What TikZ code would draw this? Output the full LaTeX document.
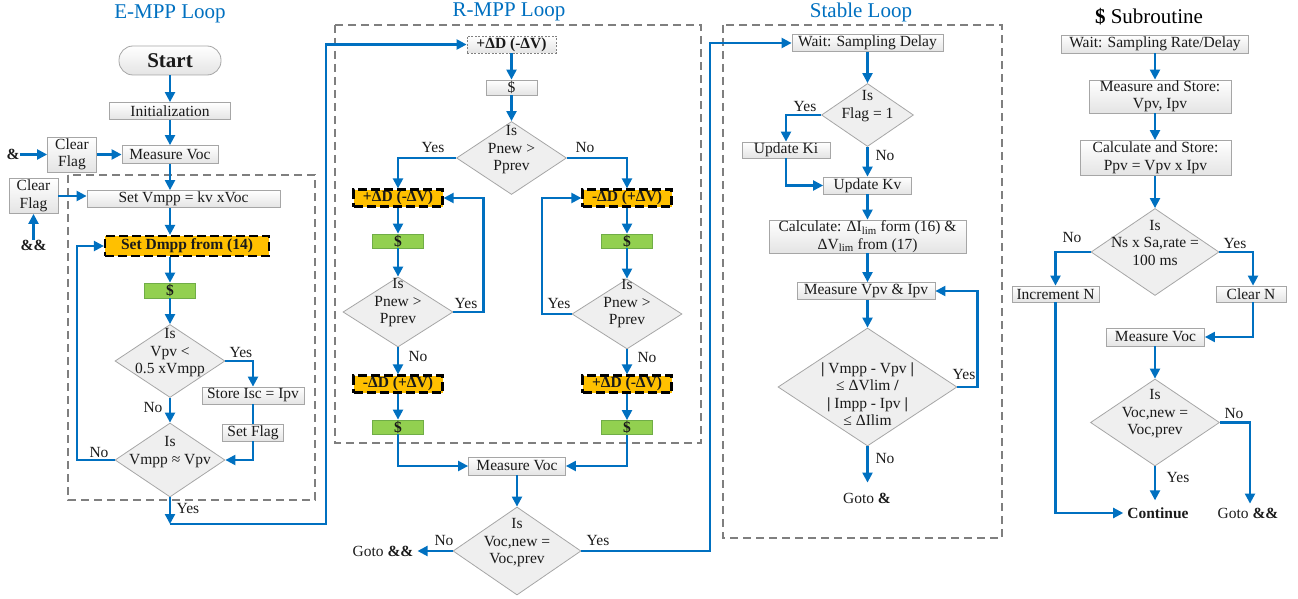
\documentclass[tikz,border=0pt]{standalone}
\usepackage{fontspec}
\setmainfont{Liberation Serif}
\usetikzlibrary{arrows.meta,shapes.geometric}
\definecolor{flowblue}{HTML}{0070C0}
\definecolor{boxline}{HTML}{A6A6A6}
\definecolor{boxfill}{HTML}{E4E4E4}
\definecolor{diafill}{HTML}{EFEFEF}
\definecolor{yel}{HTML}{FFC000}
\definecolor{grn}{HTML}{92D050}
\definecolor{grnline}{HTML}{70AD47}
\definecolor{frame}{HTML}{7F7F7F}
\definecolor{txt}{HTML}{1A1A1A}
\begin{document}
\begin{tikzpicture}[x=1pt,y=-1pt,
  every node/.style={text=txt, font=\fontsize{15.5}{17.5}\selectfont},
  box/.style={draw=boxline, line width=0.8pt, top color=white, bottom color=boxfill, inner sep=0pt, align=center},
  ybox/.style={draw=black, fill=yel, line width=2.2pt, dash pattern=on 9pt off 4pt, inner sep=0pt, minimum width=89, minimum height=17, font=\fontsize{15.5}{17.5}\selectfont\bfseries},
  gbox/.style={draw=grnline, fill=grn, line width=0.8pt, inner sep=0pt, minimum width=51, minimum height=14, font=\fontsize{15.5}{17.5}\selectfont\bfseries},
  dia/.style={diamond, draw=boxline, fill=diafill, line width=0.8pt, inner sep=0pt},
  dtxt/.style={align=center, inner sep=0pt},
  lbl/.style={inner sep=0pt},
  blbl/.style={inner sep=0pt, font=\fontsize{15.5}{17.5}\selectfont\bfseries},
  conn/.style={draw=flowblue, line width=2.2pt, -{Triangle[length=10pt,width=10pt]}},
  wire/.style={draw=flowblue, line width=2.2pt},
  frm/.style={draw=frame, line width=1.8pt, dash pattern=on 8pt off 5pt},
  ttl/.style={text=flowblue, font=\fontsize{21}{24}\selectfont},
]
\useasboundingbox (0,0) rectangle (1298,599);

% titles
\node[ttl] (t1) at (170,14) {E-MPP Loop};
\node[ttl] (t2) at (509,12) {R-MPP Loop};
\node[ttl] (t3) at (861,12) {Stable Loop};
\node[text=black, font=\fontsize{21}{24}\selectfont] (t4) at (1149,17) {\textbf{\$} Subroutine};

% frames
\draw[frm] (68,175) rectangle (315,500);
\draw[frm] (335,25) rectangle (701,443);
\draw[frm] (723,25) rectangle (1002,538);

% ---------- E-MPP ----------
\node[box, rounded corners=14pt, minimum width=102, minimum height=29, font=\fontsize{21}{24}\selectfont\bfseries] (start) at (170,60.5) {Start};
\node[box, minimum width=121, minimum height=17] (init) at (170,111) {Initialization};
\node[box, minimum width=96, minimum height=18] (mv1) at (170,154.5) {Measure Voc};
\node[box, minimum width=49, minimum height=35] (cf1) at (72,154.5) {Clear\\Flag};
\node[blbl] (amp) at (13,154.5) {\&};
\node[box, minimum width=49, minimum height=35] (cf2) at (33.5,196) {Clear\\Flag};
\node[blbl] (amp2) at (33.5,245) {\&\&};
\node[box, minimum width=193, minimum height=17] (setv) at (183.5,199) {Set Vmpp = kv xVoc};
\node[ybox, minimum width=164, minimum height=20] (sd) at (187,246) {Set Dmpp from (14)};
\node[gbox, minimum height=15] (g1) at (170,290.5) {\$};
\node[dia, minimum width=110, minimum height=73] (d1) at (170,361) {};
\node[dtxt] (d1t) at (170,353) {Is\\Vpv <\\0.5 xVmpp};
\node[box, minimum width=102, minimum height=17] (store) at (253,395.5) {Store Isc = Ipv};
\node[box, minimum width=61, minimum height=17] (sf) at (253,432.5) {Set Flag};
\node[dia, minimum width=110, minimum height=74] (d2) at (170,460) {};
\node[dtxt] (d2t) at (170,452) {Is\\Vmpp ≈ Vpv};
\coordinate (c1) at (170,524);

\node[lbl] (yes1) at (241,352) {Yes};
\node[lbl] (no1) at (153,407) {No};
\node[lbl] (no2) at (99,452) {No};
\node[lbl] (yes2) at (188,508) {Yes};

\draw[conn] (start) -- (init);
\draw[conn] (init) -- (mv1);
\draw[conn] (amp) -- (cf1);
\draw[conn] (cf1) -- (mv1);
\draw[conn] (amp2.north) -- (cf2.south);
\draw[conn] (cf2.east) -- (cf2.east -| setv.west);
\draw[conn] (mv1.south) -- (mv1.south |- setv.north);
\draw[conn] (g1.north |- setv.south) -- (g1.north |- sd.north);
\draw[conn] (g1.north |- sd.south) -- (g1.north);
\draw[conn] (g1) -- (d1);
\draw[conn] (d1.east) -| (store.north);
\draw[wire] (store) -- (sf);
\draw[conn] (sf.south) |- (d2.east);
\draw[conn] (d1) -- (d2);
\draw[conn] (d2.west) -- ++(-38,0) |- (sd.west);
\draw[conn] (d2.south) -- (c1);

% ---------- R-MPP ----------
\node[box, draw=gray, dash pattern=on 2pt off 1.5pt, minimum width=89, minimum height=17, font=\fontsize{15.5}{17.5}\selectfont\bfseries] (rtop) at (511.5,44.5) {+ΔD (-ΔV)};
\node[box, minimum width=51, minimum height=15] (rs) at (511.5,87.5) {\$};
\node[dia, minimum width=110, minimum height=73] (r1) at (511.5,158) {};
\node[dtxt] (r1t) at (511.5,150) {Is\\Pnew >\\Pprev};
\node[ybox] (ly1) at (398,198) {+ΔD (-ΔV)};
\node[gbox] (lg1) at (398,241) {\$};
\node[dia, minimum width=110, minimum height=70] (ld) at (398,312) {};
\node[dtxt] (ldt) at (398,303) {Is\\Pnew >\\Pprev};
\node[ybox] (ly2) at (398,384) {-ΔD (+ΔV)};
\node[gbox] (lg2) at (398,427) {\$};
\node[ybox] (ry1) at (627,198) {-ΔD (+ΔV)};
\node[gbox] (rg1) at (627,241) {\$};
\node[dia, minimum width=110, minimum height=70] (rd) at (627,314) {};
\node[dtxt] (rdt) at (627,304) {Is\\Pnew >\\Pprev};
\node[ybox] (ry2) at (627,384) {+ΔD (-ΔV)};
\node[gbox] (rg2) at (627,427.5) {\$};
\node[box, minimum width=97, minimum height=18] (mv2) at (517,466) {Measure Voc};
\node[dia, minimum width=128, minimum height=88] (r3) at (517,551) {};
\node[dtxt] (r3t) at (517,543) {Is\\Voc,new =\\Voc,prev};
\node[lbl] (goto1) at (383,551) {Goto \textbf{\&\&}};

\node[lbl] (yes3) at (433,148) {Yes};
\node[lbl] (no3) at (585,148) {No};
\node[lbl] (yes4) at (466,303) {Yes};
\node[lbl] (no4) at (418,356) {No};
\node[lbl] (yes5) at (559,303) {Yes};
\node[lbl] (no5) at (647,357) {No};
\node[lbl] (no6) at (444,540) {No};
\node[lbl] (yes6) at (598,540) {Yes};

\draw[conn] (c1) -- (326,524) |- (rtop.west);
\draw[conn] (rtop) -- (rs);
\draw[conn] (rs) -- (r1);
\draw[conn] (r1.west) -| (ly1.north);
\draw[conn] (r1.east) -| (ry1.north);
\draw[conn] (ly1) -- (lg1);
\draw[conn] (lg1) -- (ld);
\draw[conn] (ld.east) -- ++(30,0) |- (ly1.east);
\draw[conn] (ld) -- (ly2);
\draw[conn] (ly2) -- (lg2);
\draw[conn] (lg2.south) |- (mv2.west);
\draw[conn] (ry1) -- (rg1);
\draw[conn] (rg1) -- (rd);
\draw[conn] (rd.west) -- ++(-30,0) |- (ry1.west);
\draw[conn] (rd) -- (ry2);
\draw[conn] (ry2) -- (rg2);
\draw[conn] (rg2.south) |- (mv2.east);
\draw[conn] (mv2) -- (r3);
\draw[conn] (r3.west) -- ([xshift=4pt]goto1.east);

% ---------- Stable ----------
\node[box, minimum width=151, minimum height=17] (wait) at (867.5,43) {Wait: Sampling Delay};
\node[dia, minimum width=92, minimum height=63] (s1) at (867.5,115) {};
\node[dtxt] (s1t) at (867.5,106) {Is\\Flag = 1};
\node[box, minimum width=88, minimum height=16] (uki) at (786,150) {Update Ki};
\node[box, minimum width=88, minimum height=17] (ukv) at (867.5,185.5) {Update Kv};
\node[box, minimum width=197, minimum height=33] (calc) at (867.5,236.5) {Calculate: ΔI\textsubscript{lim} form (16) \&\\ΔV\textsubscript{lim} from (17)};
\node[box, minimum width=138, minimum height=17] (mvi) at (866,291) {Measure Vpv \& Ipv};
\node[dia, minimum width=179, minimum height=118] (s2) at (867.5,387) {};
\node[dtxt] (s2t) at (867.5,394) {\textbf{|} Vmpp - Vpv \textbf{|}\\≤ ΔVlim \textbf{/}\\\textbf{|} Impp - Ipv \textbf{|}\\≤ ΔIlim};
\node[lbl] (goto2) at (867,498) {Goto \textbf{\&}};

\node[lbl] (yes7) at (805,107) {Yes};
\node[lbl] (no7) at (885,156) {No};
\node[lbl] (yes8) at (964,374) {Yes};
\node[lbl] (no8) at (885,458) {No};

\draw[conn] (r3.east) -- (710,551) |- (wait.west);
\draw[conn] (wait) -- (s1);
\draw[conn] (s1.west) -| (uki.north);
\draw[conn] (s1) -- (ukv);
\draw[conn] (uki.south) |- (ukv.west);
\draw[conn] (ukv) -- (calc);
\draw[conn] (calc.south) -- (calc.south |- mvi.north);
\draw[conn] (s2.north |- mvi.south) -- (s2.north);
\draw[conn] (s2.east) -- ++(20,0) |- (mvi.east);
\draw[conn] (s2.south) -- ([yshift=10pt]goto2.north -| s2.south);

% ---------- $ Subroutine ----------
\node[box, minimum width=187, minimum height=18] (sw) at (1155,44) {Wait: Sampling Rate/Delay};
\node[box, minimum width=142, minimum height=33] (sms) at (1160,96.5) {Measure and Store:\\Vpv, Ipv};
\node[box, minimum width=151, minimum height=35] (scs) at (1155.5,158) {Calculate and Store:\\Ppv = Vpv x Ipv};
\node[dia, minimum width=128, minimum height=87] (u1) at (1155,252) {};
\node[dtxt] (u1t) at (1155,243) {Is\\Ns x Sa,rate =\\100 ms};
\node[box, minimum width=87, minimum height=16] (inc) at (1055.5,294) {Increment N};
\node[box, minimum width=70, minimum height=16] (cn) at (1251,294) {Clear N};
\node[box, minimum width=98, minimum height=18] (mv3) at (1155.5,337) {Measure Voc};
\node[dia, minimum width=129, minimum height=87] (u2) at (1155,422.5) {};
\node[dtxt] (u2t) at (1155,414) {Is\\Voc,new =\\Voc,prev};
\node[blbl] (cont) at (1158,513) {Continue};
\node[lbl] (goto3) at (1248,513) {Goto \textbf{\&\&}};

\node[lbl] (no9) at (1072,238) {No};
\node[lbl] (yes9) at (1235,243) {Yes};
\node[lbl] (no10) at (1234,413) {No};
\node[lbl] (yes10) at (1178,477) {Yes};

\draw[conn] (sw.south -| u1.north) -- (sms.north -| u1.north);
\draw[conn] (sms.south -| u1.north) -- (scs.north -| u1.north);
\draw[conn] (scs.south -| u1.north) -- (u1.north);
\draw[conn] (u1.west) -| (inc.north);
\draw[conn] (u1.east) -| ([xshift=2pt]cn.north);
\draw[conn] ([xshift=2pt]cn.south) |- (mv3.east);
\draw[conn] (mv3.south -| u2.north) -- (u2.north);
\draw[conn] (u2.south) -- ([yshift=7pt]cont.north -| u2.south);
\draw[conn] (u2.east) -| ([xshift=2pt,yshift=4pt]goto3.north);
\draw[conn] (inc.south) |- ([xshift=-4pt]cont.west);
\end{tikzpicture}
\end{document}
